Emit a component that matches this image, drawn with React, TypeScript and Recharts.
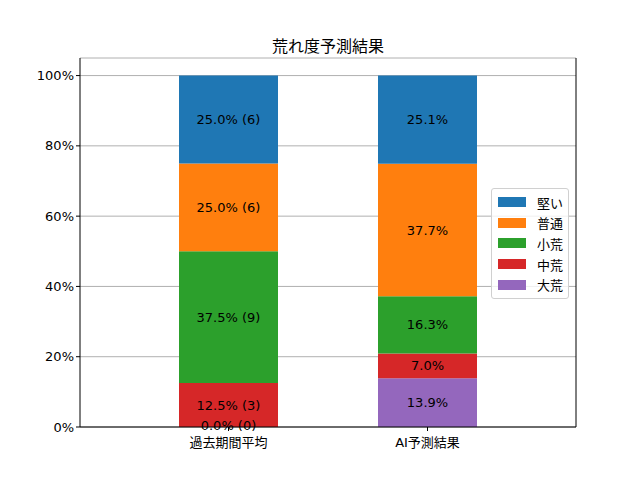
import { Bar, BarChart, CartesianGrid, LabelList, XAxis, YAxis } from "recharts";

const FONT = '"DejaVu Sans", "Noto Sans CJK JP", sans-serif';

const categories = ["過去期間平均", "AI予測結果"];
const seriesNames = ["大荒", "中荒", "小荒", "普通", "堅い"];
const seriesColors = ["#9467bd", "#d62728", "#2ca02c", "#ff7f0e", "#1f77b4"];
const pastShares = [0.0, 12.5, 37.5, 25.0, 25.0];
const pastCounts = [0, 3, 9, 6, 6];
const aiShares = [13.9, 7.0, 16.3, 37.7, 25.1];
const yTicks = [0, 20, 40, 60, 80, 100];

type Row = Record<string, string | number>;

const rows: Row[] = categories.map((name, ci) => {
  const row: Row = { name };
  seriesNames.forEach((s, si) => {
    const v = ci === 0 ? pastShares[si] : aiShares[si];
    row[s] = v;
    row[s + "_label"] =
      ci === 0 ? `${v.toFixed(1)}% (${pastCounts[si]})` : `${v.toFixed(1)}%`;
  });
  return row;
});

function LegendBox() {
  const order = [...seriesNames.keys()].reverse();
  return (
    <div
      style={{
        position: "absolute",
        left: 491,
        top: 188,
        width: 76,
        padding: "3px 0 3px 0",
        border: "1px solid #d0d0d0",
        borderRadius: 3,
        background: "rgba(255,255,255,0.8)",
        fontFamily: FONT,
        fontSize: 13,
      }}
    >
      {order.map((i) => (
        <div key={seriesNames[i]} style={{ display: "flex", alignItems: "center", height: 20.6 }}>
          <span
            style={{
              display: "inline-block",
              width: 28,
              height: 10,
              marginLeft: 6,
              marginRight: 11,
              background: seriesColors[i],
            }}
          />
          <span style={{ color: "#000" }}>{seriesNames[i]}</span>
        </div>
      ))}
    </div>
  );
}

function labelText(x: number, y: number, value: string, key?: string) {
  return (
    <text
      key={key}
      x={x}
      y={y}
      textAnchor="middle"
      dominantBaseline="central"
      fontSize={13}
      fontFamily={FONT}
      fill="#000"
    >
      {value}
    </text>
  );
}

// zero-height segments get no label of their own, so the segment above draws it at its base
function renderLabel(si: number) {
  const key = seriesNames[si] + "_label";
  return (props: any) => {
    const { x, y, width, height, value } = props;
    const cx = Number(x) + Number(width) / 2;
    const row = rows.find((r) => r[key] === value);
    const below = si > 0 && row && row[seriesNames[si - 1]] === 0;
    return (
      <g>
        {Number(height) > 0 && labelText(cx, Number(y) + Number(height) / 2, value, "v")}
        {below && labelText(cx, Number(y) + Number(height) - 2, String(row[seriesNames[si - 1] + "_label"]), "z")}
      </g>
    );
  };
}

export default function App() {
  return (
    <div style={{ position: "absolute", left: 0, top: 0, width: 640, height: 480, background: "#fff" }}>
      <div
        style={{
          position: "absolute",
          left: 80,
          width: 496,
          top: 33,
          textAlign: "center",
          fontFamily: FONT,
          fontSize: 16,
          color: "#000",
        }}
      >
        荒れ度予測結果
      </div>
      <BarChart
        width={640}
        height={480}
        data={rows}
        margin={{ top: 58, right: 63, bottom: 23, left: 20 }}
        barSize={99}
      >
        <CartesianGrid vertical={false} stroke="#b0b0b0" strokeWidth={1} />
        <XAxis
          dataKey="name"
          padding={{ left: 49, right: 49 }}
          height={30}
          axisLine={{ stroke: "#000" }}
          tickLine={{ stroke: "#000" }}
          tickSize={4}
          tickMargin={7}
          tick={{ fill: "#000", fontSize: 13, fontFamily: FONT }}
        />
        <XAxis
          xAxisId="top"
          dataKey="name"
          orientation="top"
          height={0}
          tick={false}
          tickLine={false}
          axisLine={{ stroke: "#000" }}
        />
        <YAxis
          type="number"
          domain={[0, 105]}
          ticks={yTicks}
          width={60}
          allowDataOverflow
          axisLine={{ stroke: "#000" }}
          tickLine={{ stroke: "#000" }}
          tickSize={4}
          tickFormatter={(v) => `${v}%`}
          tick={{ fill: "#000", fontSize: 13, fontFamily: FONT }}
        />
        <YAxis
          yAxisId="right"
          orientation="right"
          type="number"
          domain={[0, 105]}
          width={1}
          tick={false}
          tickLine={false}
          axisLine={{ stroke: "#000" }}
        />
        {seriesNames.map((s, si) => (
          <Bar key={s} dataKey={s} stackId="a" fill={seriesColors[si]} isAnimationActive={false}>
            <LabelList dataKey={s + "_label"} content={renderLabel(si)} />
          </Bar>
        ))}
      </BarChart>
      <LegendBox />
    </div>
  );
}
